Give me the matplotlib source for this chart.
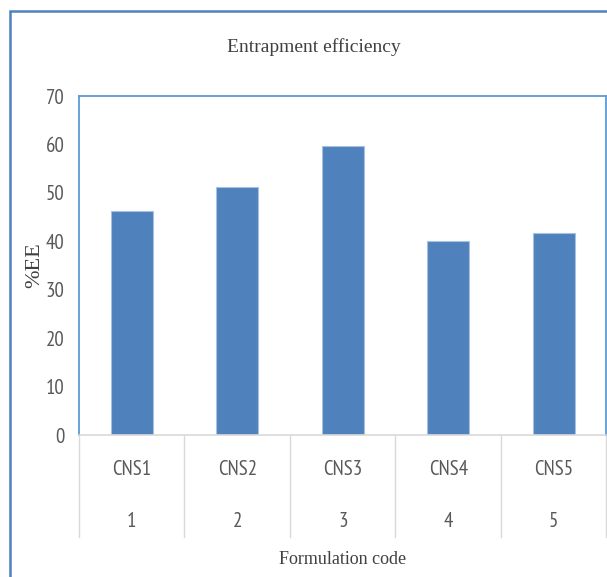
import matplotlib.pyplot as plt
from matplotlib.patches import Rectangle

# data
codes = ["CNS1", "CNS2", "CNS3", "CNS4", "CNS5"]
numbers = ["1", "2", "3", "4", "5"]
ee = [46.3, 51.3, 59.7, 40.1, 41.7]

sans = ["PT Sans Narrow", "DejaVu Sans"]
serif = ["Liberation Serif", "DejaVu Serif"]
grey = "#595959"

fig = plt.figure(figsize=(6.07, 5.77), dpi=100)
ax = fig.add_axes([0.1301, 0.2461, 0.8690, 0.5875])

x = list(range(len(codes)))
ax.bar(x, ee, width=0.4, color="#4F81BD", edgecolor="#A9C1E0", linewidth=0.8, zorder=2)

ax.set_xlim(-0.5, len(codes) - 0.5)
ax.set_ylim(0, 70)
ax.set_yticks(range(0, 71, 10))
ax.tick_params(axis="y", length=0, pad=10.5, labelcolor=grey, labelsize=15)
for lab in ax.get_yticklabels():
    lab.set_family(sans)

ax.set_xticks([])
for s in ["top", "left", "right"]:
    ax.spines[s].set_color("#5B9BD5")
    ax.spines[s].set_linewidth(1.3)
ax.spines["bottom"].set_color("#D9D9D9")
ax.spines["bottom"].set_linewidth(1.2)

# two level category axis
tr = ax.get_xaxis_transform()
for i in range(len(codes)):
    ax.text(i, -0.103, codes[i], transform=tr, ha="center", va="center",
            fontsize=15, color=grey, family=sans)
    ax.text(i, -0.254, numbers[i], transform=tr, ha="center", va="center",
            fontsize=15, color=grey, family=sans)
for b in range(len(codes) + 1):
    ax.plot([b - 0.5, b - 0.5], [0, -0.301], transform=tr, color="#D9D9D9",
            linewidth=1.0, clip_on=False)

fig.text(342.8 / 607, 1 - 559.5 / 577, "Formulation code", ha="center", va="center",
         fontsize=13, color="#404040", family=serif)
fig.text(35 / 607, 1 - 265 / 577, "%EE", ha="center", va="center", rotation=90,
         fontsize=16, color="#404040", family=serif)
fig.text(314 / 607, 1 - 47 / 577, "Entrapment efficiency", ha="center", va="center",
         fontsize=14, color="#404040", family=serif)

# outer chart frame, cut off at right and bottom
fig.patches.append(Rectangle((9.5 / 607, -0.05), 1.2, 1.05 - 10.5 / 577,
                             transform=fig.transFigure, fill=False,
                             edgecolor="#4F81BD", linewidth=1.8))

fig.savefig("out.png", dpi=100)
